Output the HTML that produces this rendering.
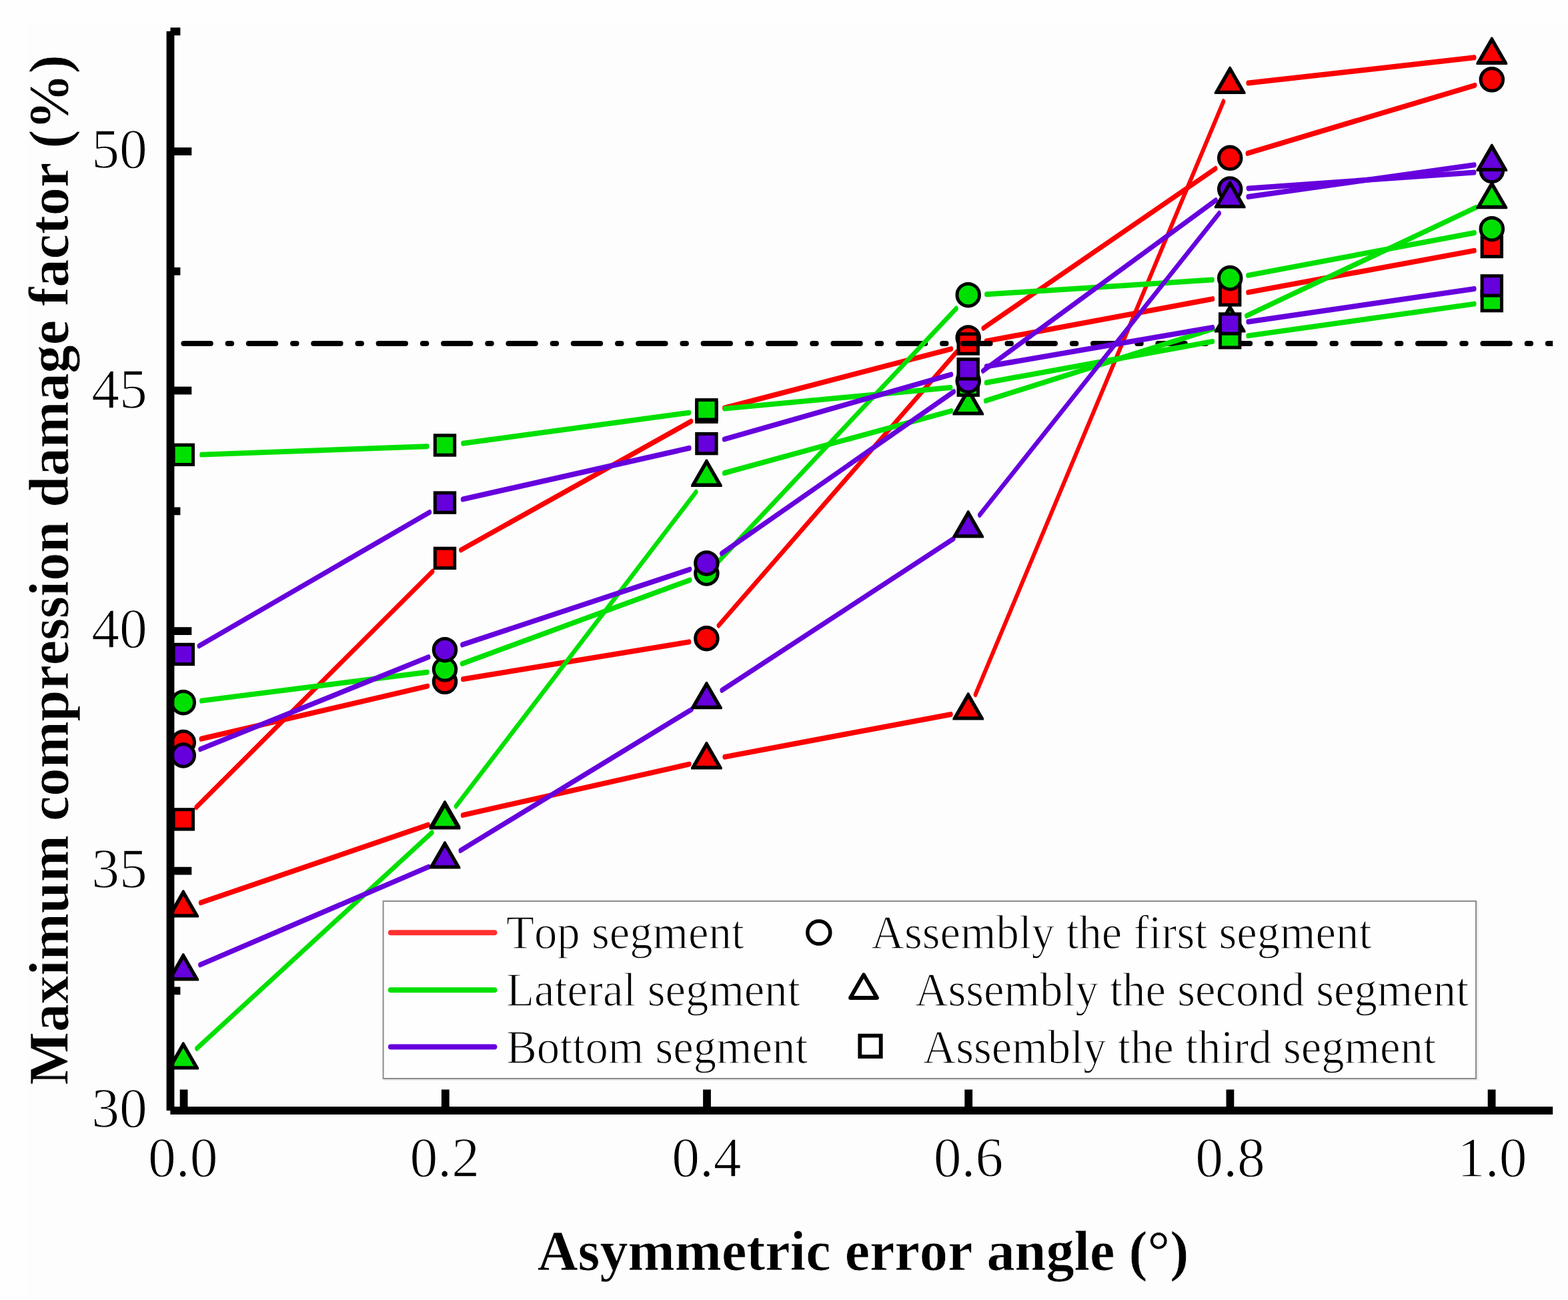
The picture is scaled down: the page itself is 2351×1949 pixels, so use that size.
<!DOCTYPE html>
<html lang="en"><head><meta charset="utf-8"><title>Maximum compression damage factor vs asymmetric error angle</title>
<style>html,body{margin:0;padding:0;background:#fff;}body{width:2351px;height:1949px;overflow:hidden;}svg{display:block;}text{font-family:"Liberation Serif",serif;fill:#000;font-kerning:none;paint-order:fill stroke;stroke:#fdfdfd;stroke-width:1.3px;stroke-linejoin:round;}.b{stroke-width:0.7px;}</style></head><body>
<svg width="2351" height="1949" viewBox="0 0 2351 1949" role="img" aria-label="Line chart of maximum compression damage factor versus asymmetric error angle">
<rect x="0" y="0" width="2351" height="1949" fill="#fefefe"/>
<rect x="41" y="34" width="2310" height="1915" fill="#fdfdfd"/>
<defs><clipPath id="plotclip"><rect x="255" y="0" width="2073.2" height="1700"/></clipPath></defs>
<g id="ticks" fill="#000">
<rect x="255.5" y="221.1" width="31.8" height="11.8"/>
<rect x="255.5" y="579.65" width="31.8" height="11.8"/>
<rect x="255.5" y="940.2" width="31.8" height="11.8"/>
<rect x="255.5" y="1299.75" width="31.8" height="11.8"/>
<rect x="255.5" y="41.33" width="14.9" height="11.8"/>
<rect x="255.5" y="400.88" width="14.9" height="11.8"/>
<rect x="255.5" y="760.43" width="14.9" height="11.8"/>
<rect x="255.5" y="1119.97" width="14.9" height="11.8"/>
<rect x="255.5" y="1479.53" width="14.9" height="11.8"/>
<rect x="269.7" y="1633.5" width="11.8" height="31.5"/>
<rect x="661.9" y="1633.5" width="11.8" height="31.5"/>
<rect x="1054.1" y="1633.5" width="11.8" height="31.5"/>
<rect x="1446.3" y="1633.5" width="11.8" height="31.5"/>
<rect x="1838.5" y="1633.5" width="11.8" height="31.5"/>
<rect x="2230.7" y="1633.5" width="11.8" height="31.5"/>
</g>
<g>
<path transform="scale(1 1.4)" d="M301.4 791.24L641.4 734.76M693.94 727.32L1033.46 687.4M1077.49 669.85L1434.61 376.73M1474.29 351.45L1822.61 180.55M1870.37 164.23L2211.63 91.27" fill="none" stroke="#fb0000" stroke-width="5.7" stroke-linecap="round"/>
<circle cx="274.8" cy="1113" r="16.75" fill="#fb0000" stroke="#000" stroke-width="5"/>
<circle cx="667" cy="1021.8" r="16.75" fill="#fb0000" stroke="#000" stroke-width="5"/>
<circle cx="1059.4" cy="957.2" r="16.75" fill="#fb0000" stroke="#000" stroke-width="5"/>
<circle cx="1451.7" cy="506.4" r="16.75" fill="#fb0000" stroke="#000" stroke-width="5"/>
<circle cx="1844.2" cy="236.8" r="16.75" fill="#fb0000" stroke="#000" stroke-width="5"/>
<circle cx="2236.8" cy="119.3" r="16.75" fill="#fb0000" stroke="#000" stroke-width="5"/>
</g>
<g>
<path transform="scale(1 1.4)" d="M300.66 966.67L642.14 883.33M693.65 872.94L1033.75 818.34M1086.24 810.6L1425.86 764.97M1462.54 743.77L1834.36 108.73M1871.33 88.93L2210.67 61.64" fill="none" stroke="#fb0000" stroke-width="5.7" stroke-linecap="round"/>
<polygon points="273.7,1334.3 275.9,1334.3 298.1,1372.76 298.1,1375.6 251.5,1375.6 251.5,1372.76" fill="#000"/><polygon points="274.8,1343.2 290.39,1370.2 259.21,1370.2" fill="#fb0000"/>
<polygon points="665.9,1200.3 668.1,1200.3 690.3,1238.76 690.3,1241.6 643.7,1241.6 643.7,1238.76" fill="#000"/><polygon points="667,1209.2 682.59,1236.2 651.41,1236.2" fill="#fb0000"/>
<polygon points="1058.3,1112.1 1060.5,1112.1 1082.7,1150.56 1082.7,1153.4 1036.1,1153.4 1036.1,1150.56" fill="#000"/><polygon points="1059.4,1121 1074.99,1148 1043.81,1148" fill="#fb0000"/>
<polygon points="1450.6,1038.3 1452.8,1038.3 1475,1076.76 1475,1079.6 1428.4,1079.6 1428.4,1076.76" fill="#000"/><polygon points="1451.7,1047.2 1467.29,1074.2 1436.11,1074.2" fill="#fb0000"/>
<polygon points="1843.1,99.8 1845.3,99.8 1867.5,138.26 1867.5,141.1 1820.9,141.1 1820.9,138.26" fill="#000"/><polygon points="1844.2,108.7 1859.79,135.7 1828.61,135.7" fill="#fb0000"/>
<polygon points="2235.7,55.6 2237.9,55.6 2260.1,94.06 2260.1,96.9 2213.5,96.9 2213.5,94.06" fill="#000"/><polygon points="2236.8,64.5 2252.39,91.5 2221.21,91.5" fill="#fb0000"/>
</g>
<g>
<path transform="scale(1 1.4)" d="M294.27 864.48L648.53 611.88M690.9 589.02L1036.5 451.12M1085.83 436.96L1426.27 373.61M1478.55 365.28L1818.35 320.08M1871.06 313.1L2210.94 268.33" fill="none" stroke="#fb0000" stroke-width="5.7" stroke-linecap="round"/>
<rect x="260.1" y="1213.7" width="29.4" height="29.4" fill="#fb0000" stroke="#000" stroke-width="5"/>
<rect x="652.3" y="822.2" width="29.4" height="29.4" fill="#fb0000" stroke="#000" stroke-width="5"/>
<rect x="1044.7" y="603" width="29.4" height="29.4" fill="#fb0000" stroke="#000" stroke-width="5"/>
<rect x="1437" y="500.8" width="29.4" height="29.4" fill="#fb0000" stroke="#000" stroke-width="5"/>
<rect x="1829.5" y="427.7" width="29.4" height="29.4" fill="#fb0000" stroke="#000" stroke-width="5"/>
<rect x="2222.1" y="355.3" width="29.4" height="29.4" fill="#fb0000" stroke="#000" stroke-width="5"/>
</g>
<g id="threshold">
<line x1="275.5" y1="515" x2="2340" y2="515" stroke="#000" stroke-width="8.2" stroke-linecap="round" stroke-dasharray="40.2 26.05 5.3 25.85" clip-path="url(#plotclip)"/>
</g>
<g>
<path transform="scale(1 1.4)" d="M301.89 750.45L640.91 719.76M692.66 710.76L1034.74 621.09M1078.26 600.55L1433.84 330.38M1478.94 315.2L1817.96 299.66M1871.04 294.89L2210.96 249.25" fill="none" stroke="#00e000" stroke-width="5.7" stroke-linecap="round"/>
<circle cx="274.8" cy="1053.2" r="16.75" fill="#00e000" stroke="#000" stroke-width="5"/>
<circle cx="667" cy="1003.5" r="16.75" fill="#00e000" stroke="#000" stroke-width="5"/>
<circle cx="1059.4" cy="859.5" r="16.75" fill="#00e000" stroke="#000" stroke-width="5"/>
<circle cx="1451.7" cy="442.2" r="16.75" fill="#00e000" stroke="#000" stroke-width="5"/>
<circle cx="1844.2" cy="417" r="16.75" fill="#00e000" stroke="#000" stroke-width="5"/>
<circle cx="2236.8" cy="343.2" r="16.75" fill="#00e000" stroke="#000" stroke-width="5"/>
</g>
<g>
<path transform="scale(1 1.4)" d="M295.04 1122.77L647.76 891.52M683.77 863.36L1043.63 526.86M1085.75 506.59L1426.35 440.05M1477.75 429.23L1819.15 352.13M1868.94 338.19L2213.06 222.17" fill="none" stroke="#00e000" stroke-width="5.7" stroke-linecap="round"/>
<polygon points="273.7,1562.3 275.9,1562.3 298.1,1600.76 298.1,1603.6 251.5,1603.6 251.5,1600.76" fill="#000"/><polygon points="274.8,1571.2 290.39,1598.2 259.21,1598.2" fill="#00e000"/>
<polygon points="665.9,1202.3 668.1,1202.3 690.3,1240.76 690.3,1243.6 643.7,1243.6 643.7,1240.76" fill="#000"/><polygon points="667,1211.2 682.59,1238.2 651.41,1238.2" fill="#00e000"/>
<polygon points="1058.3,688.6 1060.5,688.6 1082.7,727.06 1082.7,729.9 1036.1,729.9 1036.1,727.06" fill="#000"/><polygon points="1059.4,697.5 1074.99,724.5 1043.81,724.5" fill="#00e000"/>
<polygon points="1450.6,581.3 1452.8,581.3 1475,619.76 1475,622.6 1428.4,622.6 1428.4,619.76" fill="#000"/><polygon points="1451.7,590.2 1467.29,617.2 1436.11,617.2" fill="#00e000"/>
<polygon points="1843.1,457.2 1845.3,457.2 1867.5,495.66 1867.5,498.5 1820.9,498.5 1820.9,495.66" fill="#000"/><polygon points="1844.2,466.1 1859.79,493.1 1828.61,493.1" fill="#00e000"/>
<polygon points="2235.7,271.9 2237.9,271.9 2260.1,310.36 2260.1,313.2 2213.5,313.2 2213.5,310.36" fill="#000"/><polygon points="2236.8,280.8 2252.39,307.8 2221.21,307.8" fill="#00e000"/>
</g>
<g>
<path transform="scale(1 1.4)" d="M302.08 486.87L640.72 478.05M694.06 474.79L1033.34 441.93M1086.58 437.58L1425.52 414.99M1478.57 409.79L1818.33 365.64M1871.24 359.55L2210.76 325.45" fill="none" stroke="#00e000" stroke-width="5.7" stroke-linecap="round"/>
<rect x="260.1" y="667.1" width="29.4" height="29.4" fill="#00e000" stroke="#000" stroke-width="5"/>
<rect x="652.3" y="652.8" width="29.4" height="29.4" fill="#00e000" stroke="#000" stroke-width="5"/>
<rect x="1044.7" y="599.6" width="29.4" height="29.4" fill="#00e000" stroke="#000" stroke-width="5"/>
<rect x="1437" y="563" width="29.4" height="29.4" fill="#00e000" stroke="#000" stroke-width="5"/>
<rect x="1829.5" y="491.6" width="29.4" height="29.4" fill="#00e000" stroke="#000" stroke-width="5"/>
<rect x="2222.1" y="436.4" width="29.4" height="29.4" fill="#00e000" stroke="#000" stroke-width="5"/>
</g>
<g>
<path transform="scale(1 1.4)" d="M300.15 802.34L642.65 703.59M692.94 690.42L1034.46 609.73M1081.89 592.77L1430.21 419.37M1473.82 397.12L1823.08 214.38M1871.43 201.72L2210.57 184.63" fill="none" stroke="#6600dd" stroke-width="5.7" stroke-linecap="round"/>
<circle cx="274.8" cy="1132.5" r="16.75" fill="#6600dd" stroke="#000" stroke-width="5"/>
<circle cx="667" cy="974.2" r="16.75" fill="#6600dd" stroke="#000" stroke-width="5"/>
<circle cx="1059.4" cy="844.4" r="16.75" fill="#6600dd" stroke="#000" stroke-width="5"/>
<circle cx="1451.7" cy="571" r="16.75" fill="#6600dd" stroke="#000" stroke-width="5"/>
<circle cx="1844.2" cy="283.5" r="16.75" fill="#6600dd" stroke="#000" stroke-width="5"/>
<circle cx="2236.8" cy="255.8" r="16.75" fill="#6600dd" stroke="#000" stroke-width="5"/>
</g>
<g>
<path transform="scale(1 1.4)" d="M299.94 1033.18L642.86 928.25M690.38 910.74L1037.02 759.68M1082.33 739.24L1429.77 576.91M1468.87 551.44L1828.03 228.35M1871.24 210.69L2210.76 176.59" fill="none" stroke="#6600dd" stroke-width="5.7" stroke-linecap="round"/>
<polygon points="273.7,1429.3 275.9,1429.3 298.1,1467.76 298.1,1470.6 251.5,1470.6 251.5,1467.76" fill="#000"/><polygon points="274.8,1438.2 290.39,1465.2 259.21,1465.2" fill="#6600dd"/>
<polygon points="665.9,1261.3 668.1,1261.3 690.3,1299.76 690.3,1302.6 643.7,1302.6 643.7,1299.76" fill="#000"/><polygon points="667,1270.2 682.59,1297.2 651.41,1297.2" fill="#6600dd"/>
<polygon points="1058.3,1021.9 1060.5,1021.9 1082.7,1060.36 1082.7,1063.2 1036.1,1063.2 1036.1,1060.36" fill="#000"/><polygon points="1059.4,1030.8 1074.99,1057.8 1043.81,1057.8" fill="#6600dd"/>
<polygon points="1450.6,765.3 1452.8,765.3 1475,803.76 1475,806.6 1428.4,806.6 1428.4,803.76" fill="#000"/><polygon points="1451.7,774.2 1467.29,801.2 1436.11,801.2" fill="#6600dd"/>
<polygon points="1843.1,271 1845.3,271 1867.5,309.46 1867.5,312.3 1820.9,312.3 1820.9,309.46" fill="#000"/><polygon points="1844.2,279.9 1859.79,306.9 1828.61,306.9" fill="#6600dd"/>
<polygon points="2235.7,215.8 2237.9,215.8 2260.1,254.26 2260.1,257.1 2213.5,257.1 2213.5,254.26" fill="#000"/><polygon points="2236.8,224.7 2252.39,251.7 2221.21,251.7" fill="#6600dd"/>
</g>
<g>
<path transform="scale(1 1.4)" d="M298.48 691.68L644.32 548.46M693.64 534.65L1033.76 479.85M1085.67 470.4L1426.43 401.03M1478.61 392.53L1818.29 350.62M1871.22 344.6L2210.78 309.33" fill="none" stroke="#6600dd" stroke-width="5.7" stroke-linecap="round"/>
<rect x="260.1" y="966.3" width="29.4" height="29.4" fill="#6600dd" stroke="#000" stroke-width="5"/>
<rect x="652.3" y="738.9" width="29.4" height="29.4" fill="#6600dd" stroke="#000" stroke-width="5"/>
<rect x="1044.7" y="650.4" width="29.4" height="29.4" fill="#6600dd" stroke="#000" stroke-width="5"/>
<rect x="1437" y="538.6" width="29.4" height="29.4" fill="#6600dd" stroke="#000" stroke-width="5"/>
<rect x="1829.5" y="470.8" width="29.4" height="29.4" fill="#6600dd" stroke="#000" stroke-width="5"/>
<rect x="2222.1" y="413.7" width="29.4" height="29.4" fill="#6600dd" stroke="#000" stroke-width="5"/>
</g>
<g id="axes" fill="#000">
<rect x="249.6" y="46.8" width="11.8" height="1618.2"/>
<rect x="255.4" y="1659.1" width="2072.8" height="11.8"/>
</g>
<text transform="translate(220.9 252.1) scale(0.977 1)" font-size="85.6" text-anchor="end">50</text>
<text transform="translate(220.9 611.65) scale(0.977 1)" font-size="85.6" text-anchor="end">45</text>
<text transform="translate(220.9 971.2) scale(0.977 1)" font-size="85.6" text-anchor="end">40</text>
<text transform="translate(220.9 1330.75) scale(0.977 1)" font-size="85.6" text-anchor="end">35</text>
<text transform="translate(220.9 1690.3) scale(0.977 1)" font-size="85.6" text-anchor="end">30</text>
<text transform="translate(274.2 1764.3) scale(0.977 1)" font-size="85.6" text-anchor="middle">0.0</text>
<text transform="translate(666.8 1764.3) scale(0.977 1)" font-size="85.6" text-anchor="middle">0.2</text>
<text transform="translate(1059.4 1764.3) scale(0.977 1)" font-size="85.6" text-anchor="middle">0.4</text>
<text transform="translate(1452 1764.3) scale(0.977 1)" font-size="85.6" text-anchor="middle">0.6</text>
<text transform="translate(1844.6 1764.3) scale(0.977 1)" font-size="85.6" text-anchor="middle">0.8</text>
<text transform="translate(2237.2 1764.3) scale(0.977 1)" font-size="85.6" text-anchor="middle">1.0</text>
<text transform="translate(1294 1904.3) scale(0.9925 1)" font-size="84.9" text-anchor="middle" class="b" font-weight="bold">Asymmetric error angle (°)</text>
<text transform="translate(102 854.4) rotate(-90) scale(0.9925 1)" font-size="84.9" text-anchor="middle" class="b" font-weight="bold">Maximum compression damage factor (%)</text>
<g id="legend">
<path d="M575.5 1619H2215.2V1352" fill="none" stroke="#e6e6e6" stroke-width="2"/>
<rect x="574.6" y="1351" width="1638.4" height="266" fill="#fefefe" stroke="#8c8c8c" stroke-width="2"/>
<line x1="585.9" y1="1398.2" x2="741.4" y2="1398.2" stroke="#ff3030" stroke-width="8" stroke-linecap="round"/>
<text transform="translate(759 1422.2) scale(0.9655 1)" font-size="71.2">Top segment</text>
<circle cx="1227.8" cy="1398.1" r="17" fill="none" stroke="#000" stroke-width="5.5"/>
<text transform="translate(1306.3 1422.2) scale(0.9655 1)" font-size="71.2">Assembly the first segment</text>
<line x1="585.9" y1="1484.2" x2="741.4" y2="1484.2" stroke="#00e000" stroke-width="8" stroke-linecap="round"/>
<text transform="translate(759 1508.2) scale(0.9655 1)" font-size="71.2">Lateral segment</text>
<polygon points="1295,1461.36 1315,1496 1275,1496" fill="none" stroke="#000" stroke-width="5.8" stroke-linejoin="round"/>
<text transform="translate(1371.9 1508.2) scale(0.9655 1)" font-size="71.2">Assembly the second segment</text>
<line x1="585.9" y1="1569.6" x2="741.4" y2="1569.6" stroke="#6600dd" stroke-width="8" stroke-linecap="round"/>
<text transform="translate(759 1593.6) scale(0.9655 1)" font-size="71.2">Bottom segment</text>
<rect x="1289.3" y="1552.7" width="31.4" height="31.4" fill="none" stroke="#000" stroke-width="5.8"/>
<text transform="translate(1383.7 1593.6) scale(0.9655 1)" font-size="71.2">Assembly the third segment</text>
</g>
</svg></body></html>
